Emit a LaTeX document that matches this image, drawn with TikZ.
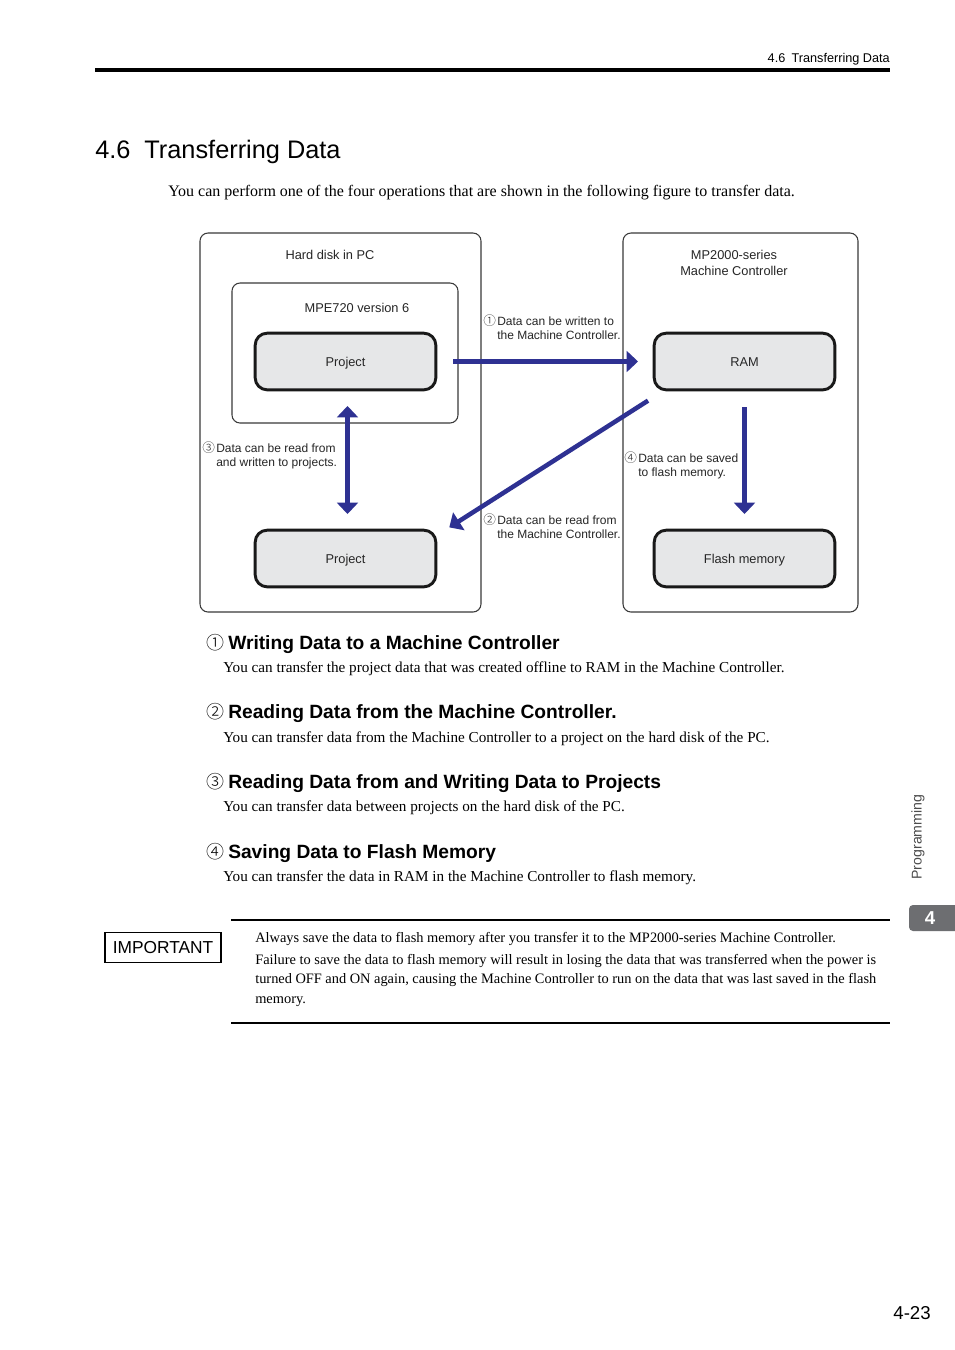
\documentclass[tikz,border=0pt]{standalone}
\usepackage{fontspec}
\setmainfont{Liberation Serif}
\setsansfont{Liberation Sans}
\newfontfamily\symfont{Noto Sans CJK JP}
\newfontfamily\symlight{Noto Sans CJK JP Light}
\usetikzlibrary{arrows.meta}
\definecolor{arrowblue}{HTML}{2E3192}
\definecolor{boxfill}{HTML}{E6E7E8}
\definecolor{framegray}{HTML}{3A3A3A}
\definecolor{tabgray}{HTML}{6D6E71}
\begin{document}
\begin{tikzpicture}[x=0.75pt,y=-0.75pt,
  outerbox/.style={draw=framegray, line width=0.8pt, rounded corners=6pt, inner sep=0pt},
  itembox/.style={draw=black!90, line width=2.2pt, fill=boxfill, rounded corners=9pt,
     minimum width=135.5pt, minimum height=42.5pt, text height=6.9pt, text depth=0pt,
     font=\sffamily\fontsize{9.6}{11}\selectfont, text=black!85},
  boxtitle/.style={font=\sffamily\fontsize{9.6}{12}\selectfont, align=center, inner sep=0pt, text=black!85},
  lbl/.style={font=\sffamily\fontsize{9}{10.5}\selectfont, align=left, anchor=north west, inner sep=0pt, text=black!85},
  arr/.style={draw=arrowblue, line width=3.4pt, -{Triangle[length=8.5pt,width=15.5pt]}},
  darr/.style={draw=arrowblue, line width=3.4pt, {Triangle[length=8.5pt,width=15.5pt]}-{Triangle[length=8.5pt,width=15.5pt]}},
  head/.style={font=\sffamily\bfseries\fontsize{14.4}{16}\selectfont, anchor=west, inner sep=0pt},
  body/.style={font=\fontsize{11.4}{13}\selectfont, anchor=west, inner sep=0pt},
  small/.style={font=\fontsize{10.8}{14.6}\selectfont, inner sep=0pt}
]
\useasboundingbox (0,0) rectangle (954,1350);
\fill[white] (0,0) rectangle (954,1350);

% header
\node[font=\sffamily\fontsize{9.5}{11}\selectfont, anchor=east, inner sep=0pt] (hdr) at (890,59) {4.6\hspace{0.5em}Transferring Data};
\coordinate (rl) at (95,70);
\coordinate (rr) at (890,70);
\draw[line width=3pt] (rl) -- (rr);

% title
\node[font=\sffamily\fontsize{19}{22}\selectfont, anchor=west, inner sep=0pt] (title) at (95,152) {4.6\hspace{0.55em}Transferring Data};
\node[body, font=\fontsize{12}{14}\selectfont] (intro) at (168,193) {You can perform one of the four operations that are shown in the following figure to transfer data.};

% diagram boxes
\node[outerbox, minimum width=210.75pt, minimum height=284.25pt] (pc) at (340.5,422.5) {};
\node[outerbox, minimum width=176.25pt, minimum height=284.25pt] (mc) at (740.5,422.5) {};
\node[outerbox, minimum width=169.5pt, minimum height=105pt] (mpe) at (345,353) {};
\node[boxtitle] (pct) at (330,255) {Hard disk in PC};
\node[boxtitle] (mpet) at (357,308) {MPE720 version 6};
\node[boxtitle] (mct) at (734,263) {MP2000-series\\Machine Controller};

\node[itembox] (proj1) at (345.5,361.5) {Project};
\node[itembox] (proj2) at (345.5,558.5) {Project};
\node[itembox] (ram) at (744.5,361.5) {RAM};
\node[itembox] (flash) at (744.5,558.5) {Flash memory};

% arrows
\draw[arr] ([xshift=12pt]proj1.east) -- ([xshift=-11pt]ram.west);
\draw[darr] ([xshift=1.5pt,yshift=-11pt]proj1.south) -- ([xshift=1.5pt,yshift=11pt]proj2.north);
\draw[arr] ([yshift=-12pt]ram.south) -- ([yshift=11pt]flash.north);
\draw[arr] ([xshift=-3.5pt,yshift=-7pt]ram.south west) -- ([xshift=9pt,yshift=1pt]proj2.north east);

% labels
\node[lbl] (l1) at (483,314.5) {\makebox[10.5pt][l]{\symlight\fontsize{9.5}{10}\selectfont ①}Data can be written to\\\hspace*{10.5pt}the Machine Controller.};
\node[lbl] (l3) at (202,441.5) {\makebox[10.5pt][l]{\symlight\fontsize{9.5}{10}\selectfont ③}Data can be read from\\\hspace*{10.5pt}and written to projects.};
\node[lbl] (l4) at (624,451.5) {\makebox[10.5pt][l]{\symlight\fontsize{9.5}{10}\selectfont ④}Data can be saved\\\hspace*{10.5pt}to flash memory.};
\node[lbl] (l2) at (483,513.5) {\makebox[10.5pt][l]{\symlight\fontsize{9.5}{10}\selectfont ②}Data can be read from\\\hspace*{10.5pt}the Machine Controller.};

% sections
\node[head] (h1) at (206,644) {\makebox[16.5pt][l]{\symlight\mdseries\fontsize{13.5}{15}\selectfont ①}Writing Data to a Machine Controller};
\node[body] (b1) at (223,669) {You can transfer the project data that was created offline to RAM in the Machine Controller.};
\node[head] (h2) at (206,713) {\makebox[16.5pt][l]{\symlight\mdseries\fontsize{13.5}{15}\selectfont ②}Reading Data from the Machine Controller.};
\node[body] (b2) at (223,739) {You can transfer data from the Machine Controller to a project on the hard disk of the PC.};
\node[head] (h3) at (206,783) {\makebox[16.5pt][l]{\symlight\mdseries\fontsize{13.5}{15}\selectfont ③}Reading Data from and Writing Data to Projects};
\node[body] (b3) at (223,808) {You can transfer data between projects on the hard disk of the PC.};
\node[head] (h4) at (206,853) {\makebox[16.5pt][l]{\symlight\mdseries\fontsize{13.5}{15}\selectfont ④}Saving Data to Flash Memory};
\node[body] (b4) at (223,878) {You can transfer the data in RAM in the Machine Controller to flash memory.};

% important block
\coordinate (t1) at (231,920);
\coordinate (t2) at (890,920);
\coordinate (u1) at (231,1023);
\coordinate (u2) at (890,1023);
\draw[line width=0.8pt] (t1) -- (t2);
\draw[line width=0.8pt] (u1) -- (u2);
\node[draw, line width=0.8pt, minimum width=87pt, minimum height=22pt, inner sep=0pt, font=\sffamily\fontsize{13}{14}\selectfont] (imp) at (163,947.5) {IMPORTANT};
\node[small, anchor=west] (i1) at (255,939) {Always save the data to flash memory after you transfer it to the MP2000-series Machine Controller.};
\node[small, anchor=north west, text width=465.75pt, align=justify] (i2) at (255,954) {Failure to save the data to flash memory will result in losing the data that was transferred when the power is\linebreak turned OFF and ON again, causing the Machine Controller to run on the data that was last saved in the flash\linebreak memory.};

% side tab
\node[font=\sffamily\fontsize{10.6}{12}\selectfont, text=black!70, rotate=90, inner sep=0pt] (side) at (918,837) {Programming};
\fill[tabgray, rounded corners=3pt] (909,905) rectangle (960,931);
\node[font=\sffamily\bfseries\fontsize{14}{16}\selectfont, text=white, inner sep=0pt] (tabn) at (930,918) {4};

% page number
\node[font=\sffamily\fontsize{14}{16}\selectfont, anchor=east, inner sep=0pt] (pg) at (931,1313) {4-23};
\end{tikzpicture}
\end{document}
